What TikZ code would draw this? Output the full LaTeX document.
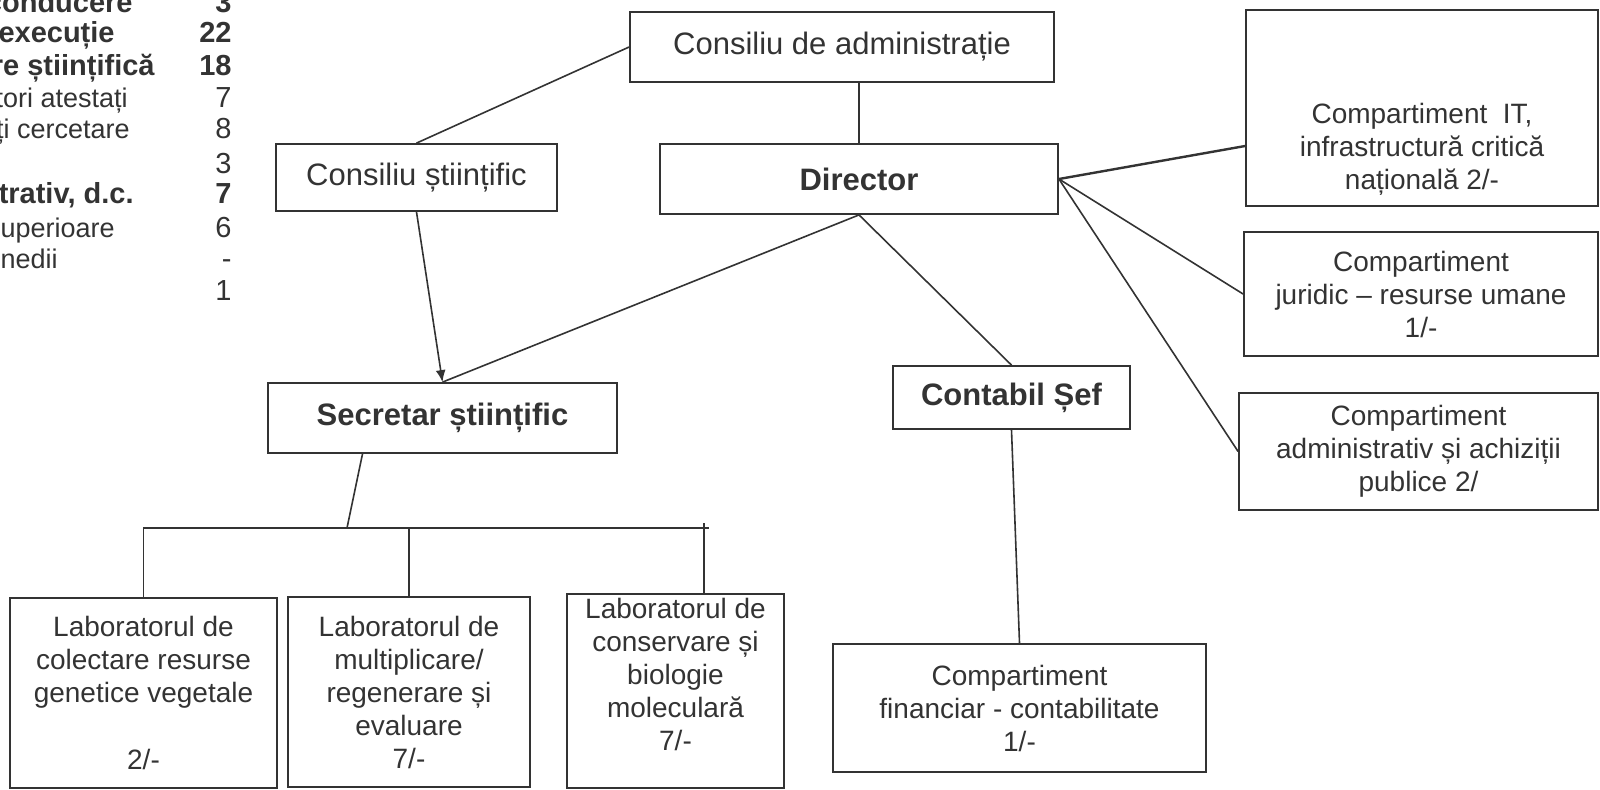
\documentclass[tikz,border=0pt]{standalone}
\usepackage{fontspec}
\setmainfont{Liberation Sans}
\usetikzlibrary{arrows.meta}

\definecolor{ink}{HTML}{333333}

\tikzset{
  box/.style={draw=ink, line width=0.9pt, align=center, text=ink, inner sep=0pt,
    font=\fontsize{15.5}{18}\selectfont},
  smallbox/.style={box, font=\fontsize{14}{16.5}\selectfont},
  labtext/.style={align=center, text=ink, inner sep=0pt, font=\fontsize{14}{16.5}\selectfont},
  link/.style={draw=ink, line width=0.8pt},
  row/.style={anchor=base east, inner sep=0pt, text=ink},
}

\begin{document}
\begin{tikzpicture}[x=0.5pt, y=-0.5pt]
  \useasboundingbox (0,0) rectangle (1600,789);
  \clip (0,0) rectangle (1600,789);

  % staff table, cut at the left edge
  \foreach \y/\lbl/\num/\wt/\xe in {
      2/conducere/3/\fontsize{14.5}{17}\selectfont\bfseries/133,
      32/execuție/22/\fontsize{14.5}{17}\selectfont\bfseries/115,
      65/re științifică/18/\fontsize{14.5}{17}\selectfont\bfseries/155,
      97/tori atestați/7/\fontsize{13.5}{16}\selectfont/128,
      128/ți cercetare/8/\fontsize{13.5}{16}\selectfont/130,
      163//3/\fontsize{13.5}{16}\selectfont/0,
      193/{trativ, d.c.}/7/\fontsize{14.5}{17}\selectfont\bfseries/134,
      227/uperioare/6/\fontsize{13.5}{16}\selectfont/115,
      258/nedii/-/\fontsize{13.5}{16}\selectfont/58,
      290//1/\fontsize{13.5}{16}\selectfont/0} {
    \node[row, font=\wt] at (\xe,\y+10) {\lbl};
    \node[row, font=\wt\fontsize{14.5}{17}\selectfont] at (232,\y+10) {\num};
  }

  % top level
  \node[box, minimum width=212pt, minimum height=35pt] (ca) at (842,47) {Consiliu de administrație};
  \node[box, minimum width=199pt, minimum height=35pt] (dir) at (859,179) {\bfseries Director};
  \node[box, minimum width=140.5pt, minimum height=33.5pt] (cs) at (416.5,177.5) {Consiliu științific};
  \node[box, minimum width=174.5pt, minimum height=35pt] (sec) at (442.5,418) {\bfseries Secretar științific};
  \node[box, minimum width=118.5pt, minimum height=31.5pt] (cont) at (1011.5,397.5) {\bfseries Contabil Șef};

  % compartments
  \node[smallbox, minimum width=186.5pt, minimum height=64pt] (fin) at (1019.5,708)
    {Compartiment\\financiar - contabilitate\\1/-};
  \node[smallbox, minimum width=176pt, minimum height=98pt] (it) at (1422,108) {};
  \node[labtext] (itText) at (1422,149)
    {Compartiment~ IT,\\infrastructură critică\\națională 2/-};
  \node[smallbox, minimum width=177pt, minimum height=62pt] (jur) at (1421,294)
    {Compartiment\\juridic – resurse umane\\1/-};
  \node[smallbox, minimum width=179.5pt, minimum height=58.5pt] (adm) at (1418.5,451.5)
    {Compartiment\\administrativ și achiziții\\publice 2/};

  % laboratories
  \node[smallbox, minimum width=133.5pt, minimum height=95pt] (lab1) at (143.5,693)
    {Laboratorul de\\colectare resurse\\genetice vegetale\\[17pt]2/-};
  \node[smallbox, minimum width=121pt, minimum height=95pt] (lab2) at (409,692)
    {Laboratorul de\\multiplicare/\\regenerare și\\evaluare\\7/-};
  \node[smallbox, minimum width=108.5pt, minimum height=97pt] (lab3) at (675.5,691) {};
  \node[labtext] (lab3Text) at (675.5,674)
    {Laboratorul de\\conservare și\\biologie\\moleculară\\7/-};

  % links
  \draw[link] (cs.north) -- (ca.west);
  \draw[link] (dir.north) -- (dir.north |- ca.south);
  \draw[link, -{Latex[length=6pt, width=5pt]}] (cs.south) -- (sec.north);
  \draw[link] (dir.south) -- (sec.north);
  \draw[link] (dir.south) -- (cont.north);
  \draw[link] (cont.south) -- (fin.north);
  \draw[link, line width=1.2pt] (dir.east) -- ([yshift=-19pt]it.west);
  \draw[link] (dir.east) -- (jur.west);
  \draw[link] (dir.east) -- (adm.west);

  % bus to the laboratories
  \coordinate (bus) at (347,528);
  \coordinate (busend) at (709,528);
  \coordinate (tick) at (704,523);
  \draw[link] ([xshift=-40pt]sec.south) -- (bus);
  \draw[link] (lab1.north) -- (lab1.north |- bus) -- (busend);
  \draw[link] (lab2.north) -- (lab2.north |- bus);
  \draw[link] (tick) -- (tick |- lab3.north);
\end{tikzpicture}
\end{document}
